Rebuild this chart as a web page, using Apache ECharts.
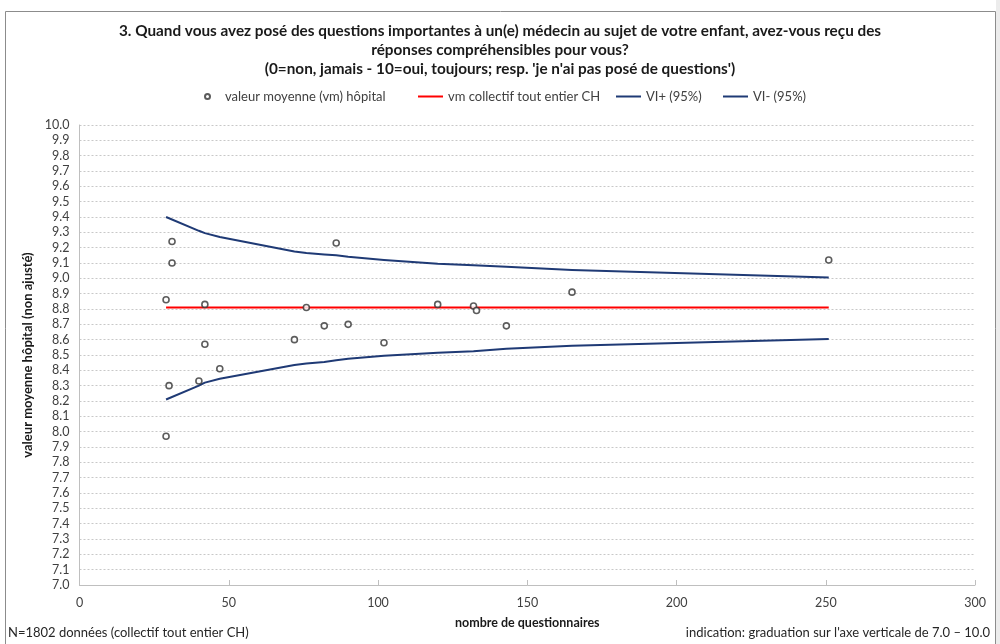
<!DOCTYPE html>
<html>
<head>
<meta charset="utf-8">
<script src="https://cdn.jsdelivr.net/npm/echarts@6/dist/echarts.min.js"></script>
<style>
html,body{margin:0;padding:0;background:#fff;}
#c{width:1000px;height:644px;}
</style>
</head>
<body>
<div id="c"></div>
<script>
// ---- data ----
const titleLines = [
  "3. Quand vous avez posé des questions importantes à un(e) médecin au sujet de votre enfant, avez-vous reçu des",
  "réponses compréhensibles pour vous?",
  "(0=non, jamais - 10=oui, toujours; resp. 'je n'ai pas posé de questions')"
];
const seriesNames = ["valeur moyenne (vm) hôpital", "vm collectif tout entier CH", "VI+ (95%)", "VI- (95%)"];
// hospital points: number of questionnaires / mean value
const hospN    = [29, 31, 31, 42, 76, 86, 120, 42, 72, 82, 90, 102, 47, 40, 30, 29, 132, 133, 143, 165, 251];
const hospMean = [8.86, 9.24, 9.10, 8.83, 8.81, 9.23, 8.83, 8.57, 8.60, 8.69, 8.70, 8.58, 8.41, 8.33, 8.30, 7.97, 8.82, 8.79, 8.69, 8.91, 9.12];
// overall mean line
const refN = [29, 251];
const refValue = [8.81, 8.81];
// confidence interval curves
const ciN     = [29, 40, 42, 47, 72, 76, 82, 86, 90, 102, 120, 132, 143, 165, 251];
const ciUpper = [9.40, 9.31, 9.295, 9.27, 9.175, 9.165, 9.155, 9.15, 9.14, 9.12, 9.095, 9.085, 9.075, 9.055, 9.005];
const ciLower = [8.21, 8.30, 8.32, 8.345, 8.435, 8.445, 8.455, 8.465, 8.475, 8.495, 8.515, 8.525, 8.54, 8.56, 8.605];
const xAxisName = "nombre de questionnaires";
const yAxisName = "valeur moyenne hôpital (non ajusté)";
const footLeft = "N=1802 données (collectif tout entier CH)";
const footRight = "indication: graduation sur l'axe verticale de 7.0 – 10.0";

// ---- chart ----
const FONT = "Lato, 'Liberation Sans', sans-serif";
const chart = echarts.init(document.getElementById('c'), null, {renderer: 'canvas'});
const zip = (a, b) => a.map((v, i) => [v, b[i]]);
const legendBase = {
  top: 90, padding: 0, itemWidth: 25, itemGap: 0,
  textStyle: {fontFamily: FONT, fontSize: 13, color: '#404040'}
};
const titleGraphics = titleLines.map((t, i) => ({
  type: 'text', x: 500, y: 31 + i * 19,
  style: {text: t, font: 'bold 15.3px ' + FONT, fill: '#1a1a1a', textAlign: 'center', textVerticalAlign: 'middle'}
}));
chart.setOption({
  animation: false,
  backgroundColor: '#fff',
  legend: [
    Object.assign({}, legendBase, {left: 204, itemHeight: 5, data: [{name: seriesNames[0], icon: 'circle'}]}),
    Object.assign({}, legendBase, {left: 418, itemHeight: 2, data: [{name: seriesNames[1], icon: 'rect'}]}),
    Object.assign({}, legendBase, {left: 616, itemHeight: 2, data: [{name: seriesNames[2], icon: 'rect'}]}),
    Object.assign({}, legendBase, {left: 723, itemHeight: 2, data: [{name: seriesNames[3], icon: 'rect'}]})
  ],
  grid: {left: 79.5, right: 25, top: 125, bottom: 59, containLabel: false},
  xAxis: {
    type: 'value', min: 0, max: 300, interval: 50,
    name: xAxisName, nameLocation: 'middle', nameGap: 31,
    nameTextStyle: {fontFamily: FONT, fontSize: 12.5, fontWeight: 'bold', color: '#1a1a1a'},
    axisLine: {show: true, lineStyle: {color: '#bfbfbf', width: 1}},
    axisTick: {show: true, inside: true, length: 5, lineStyle: {color: '#bfbfbf'}},
    axisLabel: {fontFamily: FONT, fontSize: 12.5, color: '#404040', margin: 11},
    splitLine: {show: false}
  },
  yAxis: {
    type: 'value', min: 7, max: 10, interval: 0.1,
    name: yAxisName, nameLocation: 'middle', nameGap: 36, nameRotate: 90,
    nameTextStyle: {fontFamily: FONT, fontSize: 13, fontWeight: 'bold', color: '#1a1a1a'},
    axisLine: {show: true, lineStyle: {color: '#bfbfbf', width: 1}},
    axisTick: {show: false},
    axisLabel: {fontFamily: FONT, fontSize: 12.5, color: '#404040', margin: 10,
      formatter: v => (Math.round(v * 10) / 10).toFixed(1)},
    splitLine: {show: true, lineStyle: {color: '#c8c8c8', width: 1, type: [2, 2]}}
  },
  series: [
    {
      name: seriesNames[1], type: 'line', data: zip(refN, refValue),
      symbol: 'none', lineStyle: {color: '#ff0000', width: 2}, itemStyle: {color: '#ff0000'}, z: 2
    },
    {
      name: seriesNames[2], type: 'line', data: zip(ciN, ciUpper), smooth: false,
      symbol: 'none', lineStyle: {color: '#1f3a75', width: 2, join: 'round'}, itemStyle: {color: '#1f3a75'}, z: 2
    },
    {
      name: seriesNames[3], type: 'line', data: zip(ciN, ciLower), smooth: false,
      symbol: 'none', lineStyle: {color: '#1f3a75', width: 2, join: 'round'}, itemStyle: {color: '#1f3a75'}, z: 2
    },
    {
      name: seriesNames[0], type: 'scatter', data: zip(hospN, hospMean),
      symbol: 'circle', symbolSize: 6,
      itemStyle: {color: '#ffffff', borderColor: '#333333', borderWidth: 1.6}, z: 3
    }
  ],
  graphic: titleGraphics.concat([
    {type: 'rect', shape: {x: 5.5, y: 11.5, width: 990, height: 640}, style: {fill: 'none', stroke: '#8c8c8c', lineWidth: 1}, silent: true, z: -1},
    {type: 'rect', shape: {x: 996, y: 0, width: 4, height: 644}, style: {fill: '#ececec'}, silent: true, z: -1},
    {type: 'text', left: 8, top: 626, style: {text: footLeft, font: '13px ' + FONT, fill: '#262626'}},
    {type: 'text', right: 10, top: 626, style: {text: footRight, font: '13px ' + FONT, fill: '#262626'}}
  ])
});
</script>
</body>
</html>
